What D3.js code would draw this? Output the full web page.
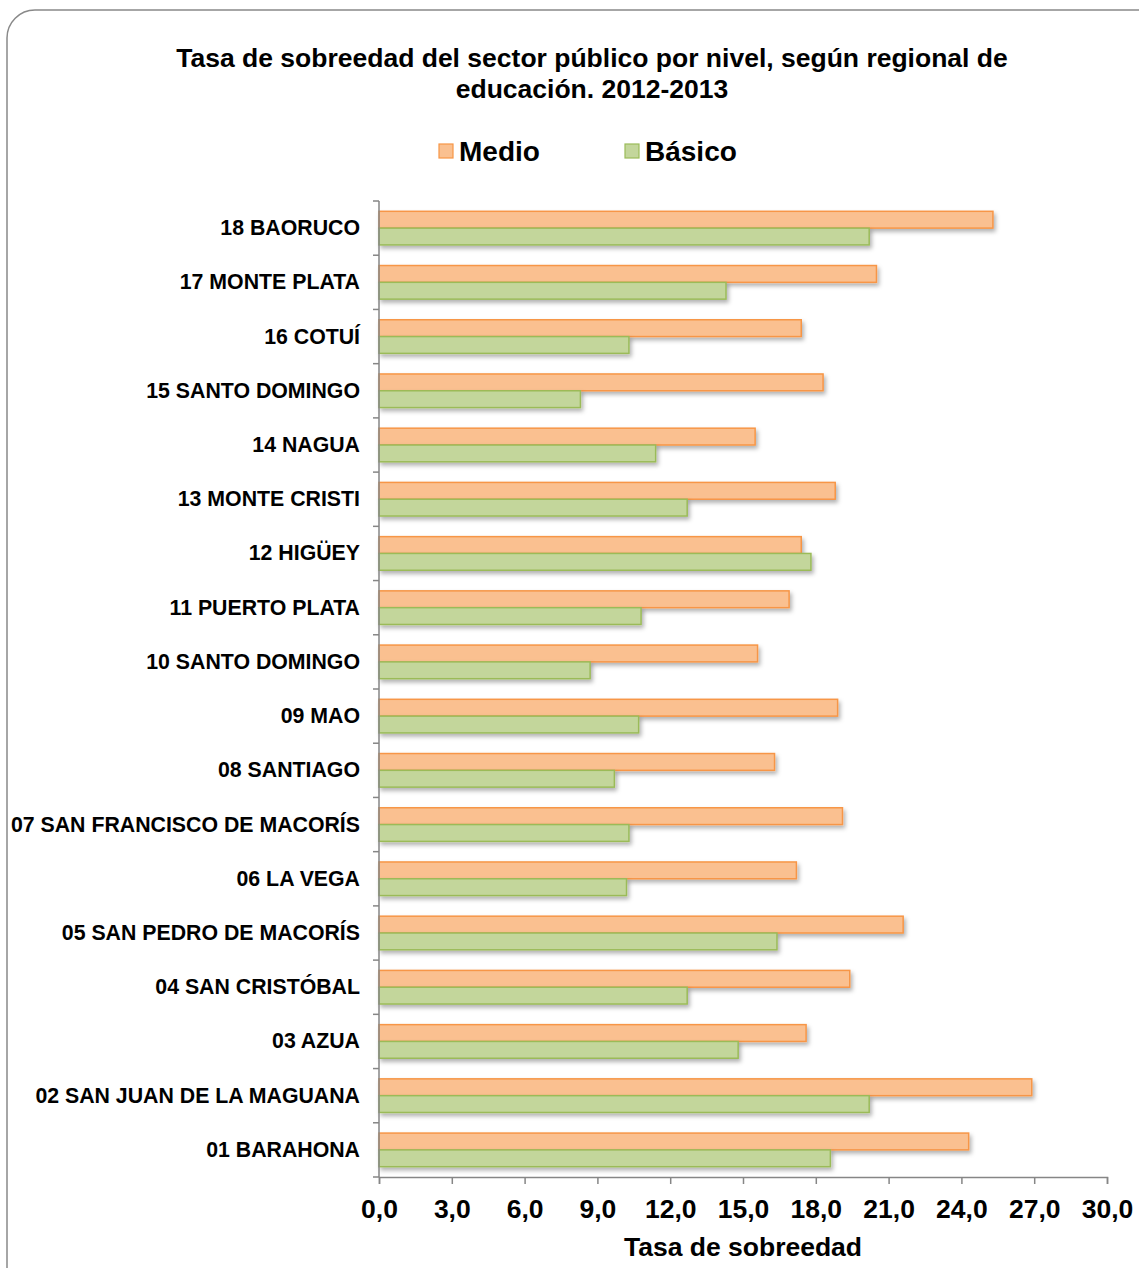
<!DOCTYPE html>
<html><head><meta charset="utf-8">
<script src="https://cdn.jsdelivr.net/npm/d3@7/dist/d3.min.js"></script>
<style>body{margin:0;background:#fff;font-family:"Liberation Sans",Arial,sans-serif;} text{font-family:"Liberation Sans",Arial,sans-serif;}</style>
</head><body>
<svg id="c" width="1139" height="1268"></svg>
<script>
const categories = ["18 BAORUCO","17 MONTE PLATA","16 COTUÍ","15 SANTO DOMINGO","14 NAGUA","13 MONTE CRISTI","12 HIGÜEY","11 PUERTO PLATA","10 SANTO DOMINGO","09 MAO","08 SANTIAGO","07 SAN FRANCISCO DE MACORÍS","06 LA VEGA","05 SAN PEDRO DE MACORÍS","04 SAN CRISTÓBAL","03 AZUA","02 SAN JUAN DE LA MAGUANA","01 BARAHONA"];
const medio  = [25.3,20.5,17.4,18.3,15.5,18.8,17.4,16.9,15.6,18.9,16.3,19.1,17.2,21.6,19.4,17.6,26.9,24.3];
const basico = [20.2,14.3,10.3,8.3,11.4,12.7,17.8,10.8,8.7,10.7,9.7,10.3,10.2,16.4,12.7,14.8,20.2,18.6];
const seriesNames = ["Medio","Básico"];
const tickValues = [0,3,6,9,12,15,18,21,24,27,30];

const svg = d3.select("#c");
const defs = svg.append("defs");
const f = defs.append("filter").attr("id","sh").attr("x","-5%").attr("y","-30%").attr("width","115%").attr("height","180%");
f.append("feDropShadow").attr("dx",2).attr("dy",3).attr("stdDeviation",2).attr("flood-color","#000").attr("flood-opacity",0.3);

svg.append("rect").attr("x",7).attr("y",10).attr("width",1160).attr("height",1290).attr("rx",28)
  .attr("fill","#fff").attr("stroke","#898989").attr("stroke-width",1.5);

const x0 = 379, x1 = 1107, yTop = 201, yBot = 1177;
const x = d3.scaleLinear().domain([0,30]).range([x0,x1]);
const y = d3.scaleBand().domain(categories).range([yTop,yBot]).paddingInner(0.38).paddingOuter(0.19);
const sub = d3.scaleBand().domain(seriesNames).range([0,y.bandwidth()]);

const fills = {"Medio":"#FAC090","Básico":"#C3D69B"};
const strokes = {"Medio":"#F79646","Básico":"#9BBB59"};

// title
svg.append("text").attr("x",592).attr("y",67).attr("text-anchor","middle").attr("font-size",26.5).attr("font-weight","bold").attr("fill","#000")
  .text("Tasa de sobreedad del sector público por nivel, según regional de");
svg.append("text").attr("x",592).attr("y",98).attr("text-anchor","middle").attr("font-size",26.5).attr("font-weight","bold").attr("fill","#000")
  .text("educación. 2012-2013");

// legend
const leg = [{n:"Medio",x:439},{n:"Básico",x:625}];
leg.forEach(l=>{
  svg.append("rect").attr("x",l.x).attr("y",144).attr("width",14).attr("height",14).attr("fill",fills[l.n]).attr("stroke",strokes[l.n]).attr("stroke-width",1.2);
  svg.append("text").attr("x",l.x+20).attr("y",161).attr("font-size",28).attr("font-weight","bold").attr("fill","#000").text(l.n);
});

// bars
const data = categories.map((c,i)=>({c, vals:[{s:"Medio",v:medio[i]},{s:"Básico",v:basico[i]}]}));
const g = svg.append("g");
data.forEach(d=>{
  d.vals.forEach(b=>{
    g.append("rect").attr("x",x(0)).attr("y",y(d.c)+sub(b.s)).attr("width",x(b.v)-x(0)).attr("height",sub.bandwidth())
      .attr("fill",fills[b.s]).attr("stroke",strokes[b.s]).attr("stroke-width",1.5).attr("filter","url(#sh)");
  });
});

// y axis
const yAxisG = svg.append("g");
yAxisG.append("line").attr("x1",x0).attr("x2",x0).attr("y1",yTop).attr("y2",yBot).attr("stroke","#868686").attr("stroke-width",1.5);
const step = (yBot-yTop)/categories.length;
for(let i=0;i<=categories.length;i++){
  yAxisG.append("line").attr("x1",x0-6).attr("x2",x0).attr("y1",yTop+i*step).attr("y2",yTop+i*step).attr("stroke","#868686").attr("stroke-width",1.5);
}
categories.forEach(c=>{
  svg.append("text").attr("x",360).attr("y",y(c)+y.bandwidth()/2+7).attr("text-anchor","end").attr("font-size",21.3).attr("font-weight","bold").attr("fill","#000").text(c);
});

// x axis
const xa = d3.axisBottom(x).tickValues(tickValues).tickSize(7).tickFormat(d=>d3.format(".1f")(d).replace(".",","));
const xg = svg.append("g").attr("transform",`translate(0,${yBot})`).call(xa);
xg.select(".domain").attr("stroke","#868686").attr("stroke-width",1.5);
xg.selectAll(".tick line").attr("stroke","#868686").attr("stroke-width",1.5);
xg.selectAll(".tick text").attr("font-size",26.5).attr("font-weight","bold").attr("fill","#000").attr("font-family","Liberation Sans, Arial, sans-serif").attr("dy",0).attr("y",41);

svg.append("text").attr("x",743).attr("y",1256).attr("text-anchor","middle").attr("font-size",26.5).attr("font-weight","bold").attr("fill","#000").text("Tasa de sobreedad");
</script>
</body></html>
